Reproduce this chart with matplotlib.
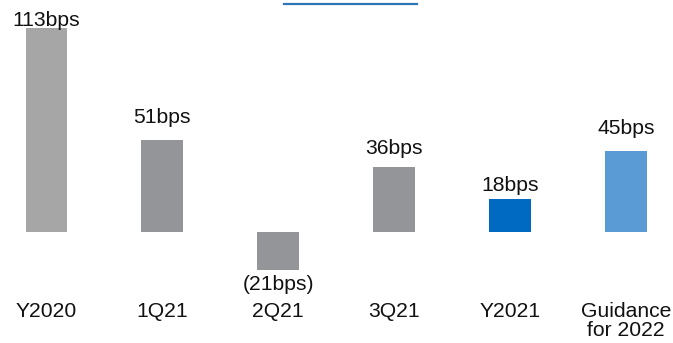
import matplotlib.pyplot as plt
from matplotlib.lines import Line2D

categories = ["Y2020", "1Q21", "2Q21", "3Q21", "Y2021", "Guidance\nfor 2022"]
values = [113, 51, -21, 36, 18, 45]
labels = ["113bps", "51bps", "(21bps)", "36bps", "18bps", "45bps"]
colors = ["#A6A6A6", "#939598", "#939598", "#939598", "#0069C2", "#5B9BD5"]
# gap between bar end and label, in pixels
gaps = [2, 17, 5, 13, 8, 17]

plt.rcParams['font.family'] = ['Liberation Sans', 'DejaVu Sans']

fig = plt.figure(figsize=(6.73, 3.43), dpi=100)
ax = fig.add_axes([0, 0, 1, 1])

px = 1.80      # pixels per bps
base = 231.7   # baseline, pixels from top
step = 115.9   # pixels between bars
x0 = 46.5      # first bar centre, pixels
fs = 15.2

xs = list(range(len(categories)))
ax.bar(xs, values, width=0.362, color=colors)

for x, v, lab, g in zip(xs, values, labels, gaps):
    if v >= 0:
        ax.annotate(lab, (x, v), xytext=(0, g * 0.72), textcoords="offset points",
                    ha="center", va="baseline", fontsize=fs, color="#111111")
    else:
        ax.annotate(lab, (x, v), xytext=(0, -g * 0.72), textcoords="offset points",
                    ha="center", va="top", fontsize=fs, color="#111111")

for x, c in zip(xs, categories):
    ax.text(x, (base - 302) / px, c, ha="center", va="top", fontsize=fs,
            color="#111111", linespacing=1.02)

ax.set_xlim(-x0 / step, (673 - x0) / step)
ax.set_ylim(-(343 - base) / px, base / px)
ax.axis("off")

fig.add_artist(Line2D([283.5 / 673, 417 / 673], [1 - 4 / 343, 1 - 4 / 343],
                      color="#2E75B6", lw=1.6))

fig.savefig("out.png", dpi=100)
